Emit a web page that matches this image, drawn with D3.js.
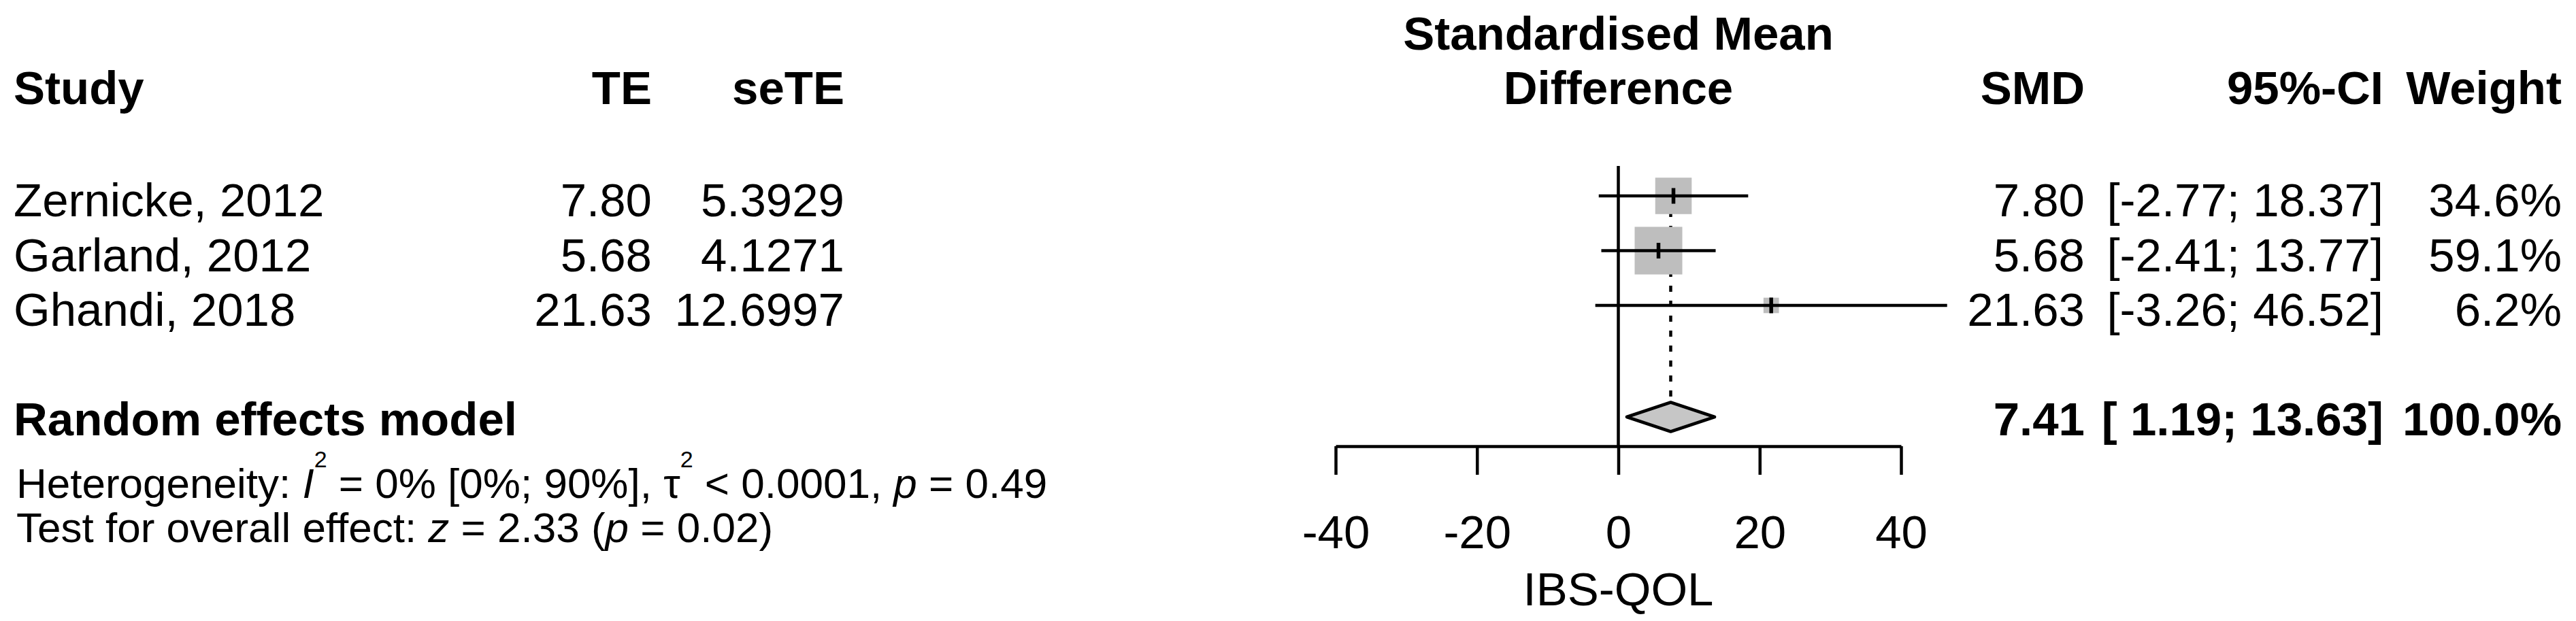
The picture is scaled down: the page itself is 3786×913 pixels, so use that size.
<!DOCTYPE html>
<html>
<head>
<meta charset="utf-8">
<script src="https://cdn.jsdelivr.net/npm/d3@7"></script>
<style>
  html, body { margin: 0; padding: 0; background: #ffffff; }
  svg { display: block; }
  text { font-family: "Liberation Sans", Arial, Helvetica, sans-serif; fill: #000; white-space: pre; }
</style>
</head>
<body>
<script>
// ---------------- data ----------------
const studies   = ["Zernicke, 2012", "Garland, 2012", "Ghandi, 2018"];
const te        = [7.80, 5.68, 21.63];
const seTE      = [5.3929, 4.1271, 12.6997];
const ciLower   = [-2.77, -2.41, -3.26];
const ciUpper   = [18.37, 13.77, 46.52];
const weights   = [34.6, 59.1, 6.2];

const pooledLabel  = "Random effects model";
const pooledValues = [7.41, 1.19, 13.63, 100.0]; // estimate, lower, upper, weight

const hetText  = ["Heterogeneity: ", "I", "2", " = 0% [0%; 90%], ", "\u03C4", "2", " < 0.0001, ", "p", " = 0.49"];
const testText = ["Test for overall effect: ", "z", " = 2.33 (", "p", " = 0.02)"];

const xTicks     = [-40, -20, 0, 20, 40];
const xLabel     = "IBS-QOL";
const titleLines = ["Standardised Mean", "Difference"];
const headers    = ["Study", "TE", "seTE", "SMD", "95%-CI", "Weight"];

// ---------------- layout ----------------
const W = 3786, H = 913;
const FS = 69, FSsmall = 62;

const svg = d3.select("body").append("svg")
  .attr("width", W).attr("height", H)
  .attr("viewBox", `0 0 ${W} ${H}`);

svg.append("rect").attr("width", W).attr("height", H).attr("fill", "#fff");

const x = d3.scaleLinear().domain([-40, 40]).range([1963, 2794]);
// baseline of text rows: index 0..2 studies, 4 pooled
const yBase = d3.scaleLinear().domain([0, 4]).range([318, 640]);
const sq = d3.scaleSqrt().domain([0, d3.max(weights)]).range([0, 70]);

const colX = { study: 20, te: 958, sete: 1241, smd: 3064, ci: 3503, w: 3765 };

// ---------------- title + headers ----------------
titleLines.forEach((t, i) => {
  svg.append("text")
    .attr("x", x(0)).attr("y", 73 + i * 80)
    .attr("text-anchor", "middle")
    .attr("font-size", FS).attr("font-weight", "bold")
    .text(t);
});

const headerPos = [
  [colX.study, "start"], [colX.te, "end"], [colX.sete, "end"],
  [colX.smd, "end"], [colX.ci, "end"], [colX.w, "end"]
];
headers.forEach((h, i) => {
  svg.append("text")
    .attr("x", headerPos[i][0]).attr("y", 153)
    .attr("text-anchor", headerPos[i][1])
    .attr("font-size", FS).attr("font-weight", "bold")
    .text(h);
});

// ---------------- study rows text ----------------
const fmt2 = v => v.toFixed(2);
const ciW = d3.max(ciLower.concat([pooledValues[1]]), v => fmt2(v).length);
const ciW2 = d3.max(ciUpper.concat([pooledValues[2]]), v => fmt2(v).length);
const ciStr = (lo, hi) => "[" + fmt2(lo).padStart(ciW, " ") + "; " + fmt2(hi).padStart(ciW2, " ") + "]";

studies.forEach((s, i) => {
  const yb = yBase(i);
  const row = svg.append("g").attr("font-size", FS);
  row.append("text").attr("x", colX.study).attr("y", yb).text(s);
  row.append("text").attr("x", colX.te).attr("y", yb).attr("text-anchor", "end").text(fmt2(te[i]));
  row.append("text").attr("x", colX.sete).attr("y", yb).attr("text-anchor", "end").text(seTE[i].toFixed(4));
  row.append("text").attr("x", colX.smd).attr("y", yb).attr("text-anchor", "end").text(fmt2(te[i]));
  row.append("text").attr("x", colX.ci).attr("y", yb).attr("text-anchor", "end").text(ciStr(ciLower[i], ciUpper[i]));
  row.append("text").attr("x", colX.w).attr("y", yb).attr("text-anchor", "end").text(weights[i].toFixed(1) + "%");
});

// pooled row
{
  const yb = yBase(4);
  const row = svg.append("g").attr("font-size", FS).attr("font-weight", "bold");
  row.append("text").attr("x", colX.study).attr("y", yb).text(pooledLabel);
  row.append("text").attr("x", colX.smd).attr("y", yb).attr("text-anchor", "end").text(fmt2(pooledValues[0]));
  row.append("text").attr("x", colX.ci).attr("y", yb).attr("text-anchor", "end").text(ciStr(pooledValues[1], pooledValues[2]));
  row.append("text").attr("x", colX.w).attr("y", yb).attr("text-anchor", "end").text(pooledValues[3].toFixed(1) + "%");
}

// heterogeneity + test lines
function richLine(parts, yb, styles) {
  const t = svg.append("text").attr("x", 24).attr("y", yb).attr("font-size", FSsmall);
  parts.forEach((p, k) => {
    const st = styles[k] || "";
    const ts = t.append("tspan").text(p);
    if (st === "i") ts.attr("font-style", "italic");
    if (st === "sup") ts.attr("font-size", 34).attr("dy", -45);
    if (st === "after") ts.attr("dy", 45);
  });
}
richLine(hetText, 732, ["", "i", "sup", "after", "", "sup", "after", "i", ""]);
richLine(testText, 797, ["", "i", "", "i", ""]);

// ---------------- plot ----------------
const rowC = i => yBase(i) - 30;
const axisY = 656;
const topY = yBase(0) - 74;
const LW = 4.5;

// vertical reference line at 0
svg.append("line")
  .attr("x1", x(0)).attr("x2", x(0))
  .attr("y1", topY).attr("y2", axisY)
  .attr("stroke", "#000").attr("stroke-width", LW);

// pooled dotted line
const diamondC = yBase(4) - 27, diamondH = 21.5;
svg.append("line")
  .attr("x1", x(pooledValues[0])).attr("x2", x(pooledValues[0]))
  .attr("y1", rowC(0)).attr("y2", diamondC - diamondH)
  .attr("stroke", "#000").attr("stroke-width", LW)
  .attr("stroke-dasharray", "9,13");

// squares
const g = svg.append("g");
g.selectAll("rect.sq").data(studies).join("rect")
  .attr("class", "sq")
  .attr("x", (d, i) => x(te[i]) - sq(weights[i]) / 2)
  .attr("y", (d, i) => rowC(i) - sq(weights[i]) / 2)
  .attr("width", (d, i) => sq(weights[i]))
  .attr("height", (d, i) => sq(weights[i]))
  .attr("fill", "#bebebe");

// CI lines
g.selectAll("line.ci").data(studies).join("line")
  .attr("class", "ci")
  .attr("x1", (d, i) => x(ciLower[i])).attr("x2", (d, i) => x(ciUpper[i]))
  .attr("y1", (d, i) => rowC(i)).attr("y2", (d, i) => rowC(i))
  .attr("stroke", "#000").attr("stroke-width", LW);

// point estimate ticks
g.selectAll("line.pt").data(studies).join("line")
  .attr("class", "pt")
  .attr("x1", (d, i) => x(te[i])).attr("x2", (d, i) => x(te[i]))
  .attr("y1", (d, i) => rowC(i) - 11.5).attr("y2", (d, i) => rowC(i) + 11.5)
  .attr("stroke", "#000").attr("stroke-width", 5.5);

// diamond
const dPts = [
  [x(pooledValues[1]), diamondC],
  [x(pooledValues[0]), diamondC - diamondH],
  [x(pooledValues[2]), diamondC],
  [x(pooledValues[0]), diamondC + diamondH]
];
svg.append("polygon")
  .attr("points", dPts.map(p => p.join(",")).join(" "))
  .attr("fill", "#c6c6c6").attr("stroke", "#000").attr("stroke-width", LW)
  .attr("stroke-linejoin", "round");

// x axis
const axis = d3.axisBottom(x).tickValues(xTicks).tickSize(42).tickSizeOuter(0).tickPadding(59)
  .tickFormat(d => String(d));
const ax = svg.append("g").attr("transform", `translate(0,${axisY})`).call(axis);
ax.select(".domain").attr("stroke", "#000").attr("stroke-width", LW);
ax.selectAll(".tick line").attr("stroke", "#000").attr("stroke-width", LW);
ax.selectAll(".tick text")
  .attr("font-size", FS)
  .attr("font-family", "Liberation Sans, Arial, sans-serif")
  .attr("fill", "#000");

svg.append("text")
  .attr("x", x(0)).attr("y", 890)
  .attr("text-anchor", "middle").attr("font-size", FS)
  .text(xLabel);
</script>
</body>
</html>
